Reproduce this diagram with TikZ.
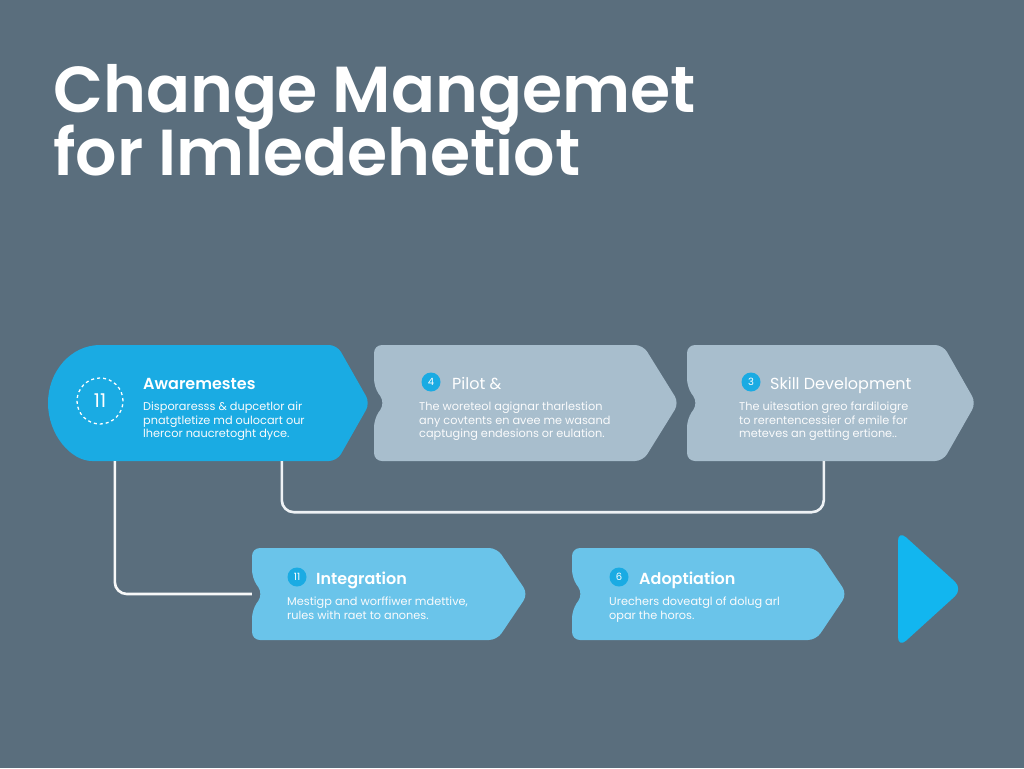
\documentclass[tikz,border=0pt]{standalone}
\usepackage{fontspec}
\setmainfont{Poppins}
\newfontfamily\headfont{Poppins SemiBold}
\usetikzlibrary{calc,positioning}
\definecolor{slate}{HTML}{5A6E7D}
\definecolor{awblue}{HTML}{1AABE3}
\definecolor{pale}{HTML}{A8BECD}
\definecolor{skyb}{HTML}{6AC4EA}
\definecolor{tri}{HTML}{12B6EF}
\tikzset{
    headline/.style = {anchor=base west, inner sep=0, text=white,
        font=\fontsize{65}{65}\selectfont\headfont},
    stepname/.style = {font=\fontsize{16}{18}\selectfont, text=white,
        anchor=base west, inner sep=0},
    steptext/.style = {font=\fontsize{11.3}{13.2}\selectfont, text=white!94!pale,
        anchor=north west, align=left, inner sep=0},
    numdot/.style = {circle, fill=awblue, text=white, minimum size=19,
        inner sep=0, font=\fontsize{10}{10}\selectfont},
    link/.style = {draw=white!95!slate, line width=2.6, rounded corners=12},
    body/.style = {rectangle, inner sep=0}
}
% chevron box: name, left, top, right, bottom, tip x, colour
\newcommand{\chevbox}[7]{%
    \fill[#7, rounded corners=8] (#2,#3) -- (#4,#3) -- (#6,{(#3+#5)/2})
        -- (#4,#5) -- (#2,#5) -- (#2,{(#3+#5)/2+16}) -- (#2+11,{(#3+#5)/2})
        -- (#2,{(#3+#5)/2-16}) -- cycle;
    \node[body, minimum width={(#4-#2)*1pt}, minimum height={(#5-#3)*1pt}]
        (#1) at ({(#2+#4)/2},{(#3+#5)/2}) {};
}

\begin{document}
\begin{tikzpicture}[x=1pt, y=-1pt]
    \fill[slate] (0,0) rectangle (1024,768);
    \useasboundingbox (0,0) rectangle (1024,768);
    % heading
    \node[headline] (head1) at (53,112) {Change Mangemet};
    \node[headline] (head2) at (53,175) {for Imledehetiot};
    % first row
    \fill[awblue, rounded corners=8] (100,345) -- (337,345) -- (370,403)
        -- (337,461) -- (100,461) [rounded corners=0]
        arc[start angle=270, end angle=90, x radius=52, y radius=-58] -- cycle;
    \node[body, minimum width=289, minimum height=116] (aware) at (193.5,403) {};
    \chevbox{pilot}{374}{345}{643}{461}{679}{pale}
    \chevbox{skill}{687}{345}{943}{461}{976}{pale}
    % second row
    \chevbox{integ}{252}{548}{497}{640}{528}{skyb}
    \chevbox{adopt}{572}{548}{816}{640}{847}{skyb}
    \fill[tri, rounded corners=11] (898,530) -- (963,589) -- (898,648) -- cycle;
    % awareness text
    \node[circle, draw=white, dashed, line width=1.3, minimum size=46,
        inner sep=0, text=white, font=\fontsize{19}{19}\selectfont]
        (n1) at (100,401) {11};
    \node[stepname, font=\fontsize{16}{18}\selectfont\headfont] (t1) at (143,389) {Awaremestes};
    \node[steptext] (d1) at (143,402) {Disporaresss \& dupcetlor air\\
        pnatgtletize md oulocart our\\lhercor naucretoght dyce.};
    % pilot text
    \node[numdot] (n2) at (431,382) {4};
    \node[stepname] (t2) at (452,389) {Pilot \&};
    \node[steptext] (d2) at (419,402) {The woreteol agignar tharlestion\\
        any covtents en avee me wasand\\captuging endesions or eulation.};
    % skill text
    \node[numdot] (n3) at (751,382) {3};
    \node[stepname] (t3) at (770,389) {Skill Development};
    \node[steptext] (d3) at (739,402) {The uitesation greo fardiloigre\\
        to rerentencessier of emile for\\meteves an getting ertione..};
    % integration text
    \node[numdot] (n4) at (297,577) {11};
    \node[stepname, font=\fontsize{16}{18}\selectfont\headfont] (t4) at (316,584) {Integration};
    \node[steptext] (d4) at (287,597) {Mestigp and worffiwer mdettive,\\
        rules with raet to anones.};
    % adoption text
    \node[numdot] (n5) at (619,577) {6};
    \node[stepname, font=\fontsize{16}{18}\selectfont\headfont] (t5) at (639,584) {Adoptiation};
    \node[steptext] (d5) at (609,597) {Urechers doveatgl of dolug arl\\
        opar the horos.};
    % connectors
    \draw[link] ([xshift=66]aware.south west) |- (integ.west);
    \draw[link, draw=white!80!pale] ([xshift=233]aware.south west) -- ++(0,51)
        -| ([xshift=137]skill.south west);
\end{tikzpicture}
\end{document}
